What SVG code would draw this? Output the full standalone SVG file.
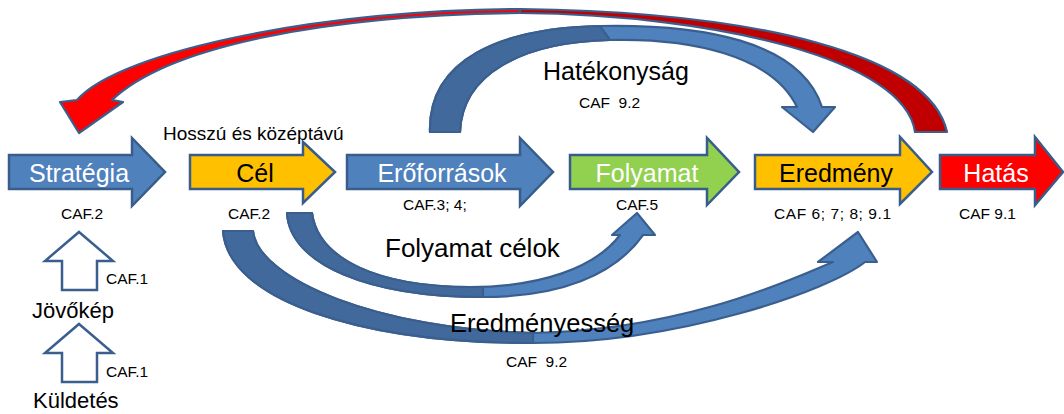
<svg xmlns="http://www.w3.org/2000/svg" width="1064" height="414" viewBox="0 0 1064 414">
<style>
text{font-family:"Liberation Sans",Arial,sans-serif;white-space:pre}
.blk{stroke:#385D8A;stroke-width:2.5;stroke-linejoin:miter}
.blue{fill:#4F81BD}
.yel{fill:#FFC000}
.grn{fill:#92D050}
.red{fill:#FF0000}
.cv{stroke:#3A5F8E;stroke-width:2.2;stroke-linejoin:round}
.lt{fill:#4F81BD}
.dk{fill:#41699C}
.up{fill:#FFFFFF;stroke:#3A5F8E;stroke-width:2.5}
.big{font-size:25px}
.cap{font-size:15.5px;fill:#000}
.w{fill:#FFFFFF}
.b{fill:#000000}
</style>
<rect width="1064" height="414" fill="#FFFFFF"/>
<g id="connectors">
  <g id="red-feedback">
    <path class="cv" fill="#C00000" d="M947,132 C930,55 760,12 520,9 L520,13 C720,15 905,60 915,132 Z"/>
    <path class="cv" fill="#FF0000" d="M520,9 C330,9 120,50 77,100 L60,102 L79,133 L123,102 L112,100 C170,45 330,15 520,13 Z"/>
  </g>
  <g id="hatekonysag-arrow">
    <path class="cv lt" d="M430,132 C428,60 500,28 600,26 C700,24 800,40 822,107 L835,107 L813,132 L782,107 L797,107 C772,55 690,38 610,40 C520,42 462,75 460,132 Z"/>
    <path class="cv dk" d="M430,132 C428,60 500,28 600,26 L610,40 C520,42 462,75 460,132 Z"/>
  </g>
  <g id="folyamat-celok-arrow">
    <path class="cv lt" d="M287,213 C290,265 370,297 483,297 C560,297 615,275 643,235 L655,235 L637,213 L612,235 L620,235 C595,268 540,287 470,287 C380,287 318,260 312,213 Z"/>
    <path class="cv dk" d="M287,213 C290,265 370,297 483,297 L483,287 L470,287 C380,287 318,260 312,213 Z"/>
  </g>
  <g id="eredmenyesseg-arrow">
    <path class="cv lt" d="M223,231 C228,300 360,343 533,343 C680,343 830,290 865,262 L877,262 L858,232 L818,262 L833,262 C800,275 690,330 533,333 C380,330 258,280 253,231 Z"/>
    <path class="cv dk" d="M223,231 C228,300 360,343 533,343 L533,333 C380,330 258,280 253,231 Z"/>
  </g>
  <path id="up-jovokep" class="up" d="M79,232 L113,261 H97 V290 H62 V261 H45 Z"/>
  <path id="up-kuldetes" class="up" d="M79,324 L113,353 H97 V382 H62 V353 H45 Z"/>
  <text class="big b" x="543" y="80">Hatékonyság</text>
  <text class="cap" x="579" y="108">CAF  9.2</text>
  <text class="b" font-size="26" x="385" y="257">Folyamat célok</text>
  <text class="b" font-size="25.5" x="450" y="332">Eredményesség</text>
  <text class="cap" x="506" y="367">CAF  9.2</text>
  <text class="cap" x="106" y="284">CAF.1</text>
  <text class="cap" x="106" y="377">CAF.1</text>
</g>
<g id="strategia">
  <path class="blk blue" d="M9,155 H132 V138 L165,172 L132,206 V189 H9 Z"/>
  <text class="big w" x="79" y="182" text-anchor="middle">Stratégia</text>
  <text class="cap" x="61" y="219">CAF.2</text>
</g>
<g id="cel">
  <path class="blk yel" d="M190,155 H303 V142 L335,172 L303,203 V189 H190 Z"/>
  <text class="big b" x="255" y="182" text-anchor="middle">Cél</text>
  <text class="cap" x="228" y="219">CAF.2</text>
  <text class="b" font-size="19" x="163" y="140">Hosszú és középtávú</text>
</g>
<g id="eroforrasok">
  <path class="blk blue" d="M347,155 H520 V138 L553,172 L520,206 V189 H347 Z"/>
  <text class="big w" x="442" y="182" text-anchor="middle">Erőforrások</text>
  <text class="cap" x="403" y="210">CAF.3; 4;</text>
</g>
<g id="folyamat">
  <path class="blk grn" d="M570,155 H707 V138 L739,172 L707,205 V189 H570 Z"/>
  <text class="big w" x="647" y="182" text-anchor="middle">Folyamat</text>
  <text class="cap" x="616" y="210">CAF.5</text>
</g>
<g id="eredmeny">
  <path class="blk yel" d="M755,155 H900 V137 L932,172 L900,204 V189 H755 Z"/>
  <text class="big b" x="836" y="182" text-anchor="middle">Eredmény</text>
  <text class="cap" x="774" y="219" textLength="117">CAF 6; 7; 8; 9.1</text>
</g>
<g id="hatas">
  <path class="blk red" d="M940,155 H1035 V137 L1063,172 L1035,205 V189 H940 Z"/>
  <text class="big w" x="996" y="182" text-anchor="middle">Hatás</text>
  <text class="cap" x="959" y="219">CAF 9.1</text>
</g>
<g id="jovokep">
  <text class="b" font-size="22" x="32" y="318">Jövőkép</text>
</g>
<g id="kuldetes">
  <text class="b" font-size="22" x="33" y="408">Küldetés</text>
</g>
</svg>
